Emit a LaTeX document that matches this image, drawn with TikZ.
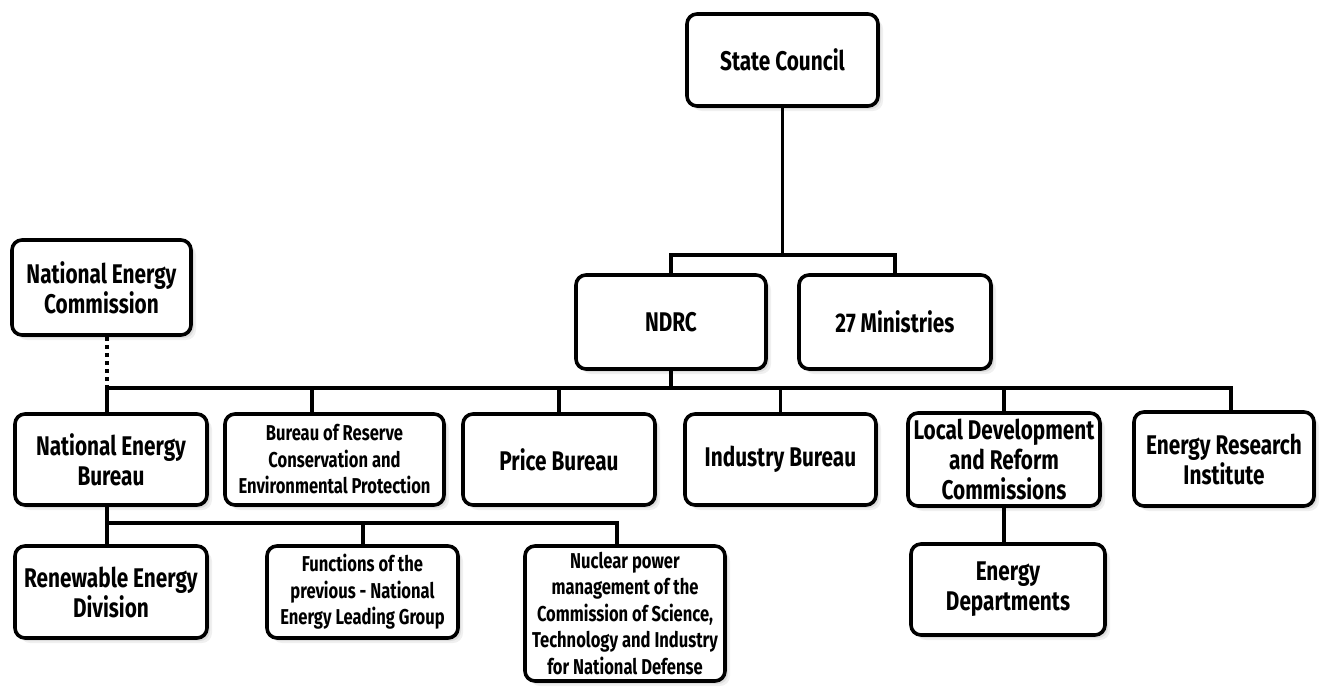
\documentclass[tikz,border=0pt]{standalone}
\usepackage{fontspec}
\setmainfont{Fira Sans}[FakeStretch=0.77]
\usetikzlibrary{shadows}
\begin{document}
\begin{tikzpicture}[x=1pt,y=-1pt,
  shadowed/.style={
    general shadow={shadow xshift=5pt, shadow yshift=-5pt, fill=black, opacity=0.06},
    general shadow={shadow xshift=3pt, shadow yshift=-3pt, fill=black, opacity=0.08},
    general shadow={shadow xshift=1.5pt, shadow yshift=-1.5pt, fill=black, opacity=0.10}},
  box/.style={draw=black, line width=3.6pt, rounded corners=10pt, fill=white,
    align=center, inner sep=0pt, shadowed,
    font=\fontsize{27}{30}\selectfont\bfseries},
  small/.style={font=\fontsize{21.5}{26.5}\selectfont\bfseries},
  link/.style={draw=black, line width=3.6pt, line join=miter},
  dotlink/.style={draw=black, line width=3.6pt, dash pattern=on 4pt off 4pt}]
\fill[white] (0,0) rectangle (1320,686);
\useasboundingbox (0,0) rectangle (1320,686);

\node[box, minimum width=191pt, minimum height=92pt] (sc) at (782.5,60) {State Council};
\node[box, minimum width=190pt, minimum height=94pt] (ndrc) at (671,322) {NDRC};
\node[box, minimum width=192pt, minimum height=94pt] (min) at (895,322) {27 Ministries};
\node[box, minimum width=179pt, minimum height=95pt] (nec) at (101.5,287.5) {National Energy\\Commission};
\node[box, minimum width=192pt, minimum height=91pt] (neb) at (111,459.5) {National Energy\\Bureau};
\node[box, small, minimum width=219pt, minimum height=91pt] (bor) at (334.5,459.5) {Bureau of Reserve\\Conservation and\\Environmental Protection};
\node[box, minimum width=192pt, minimum height=91pt] (pb) at (559,459.5) {Price Bureau};
\node[box, minimum width=191pt, minimum height=91pt] (ib) at (780.5,459.5) {Industry Bureau};
\node[box, minimum width=192pt, minimum height=93pt] (ldr) at (1004,459.5) {Local Development\\and Reform\\Commissions};
\node[box, minimum width=180pt, minimum height=94pt] (eri) at (1224,459) {Energy Research\\Institute};
\node[box, minimum width=192pt, minimum height=92pt] (red) at (111,592) {Renewable Energy\\Division};
\node[box, small, minimum width=191pt, minimum height=92pt] (fun) at (362.5,592) {Functions of the\\previous - National\\Energy Leading Group};
\node[box, small, minimum width=200pt, minimum height=135pt] (nuc) at (625,613.5) {Nuclear power\\management of the\\Commission of Science,\\Technology and Industry\\for National Defense};
\node[box, minimum width=194pt, minimum height=91pt] (ed) at (1008,589.5) {Energy\\Departments};

% State Council to NDRC / 27 Ministries
\coordinate (t1) at (783,255);
\draw[link] (sc.south) -- (sc.south |- t1);
\draw[link] (ndrc.north) |- (t1) -| (min.north);

% NDRC to bureaus
\coordinate (t2) at (671,388);
\coordinate (bneb) at (107,388);
\coordinate (beri) at (1231,388);
\coordinate (bbor) at (312,388);
\draw[link] (ndrc.south) -- (t2);
\draw[link] (neb.north -| bneb) -- (bneb) -- (beri) -- (eri.north -| beri);
\draw[link] (bbor) -- (bbor |- bor.north);
\draw[link] (pb.north |- t2) -- (pb.north);
\draw[link] (ib.north |- t2) -- (ib.north);
\draw[link] (ldr.north |- t2) -- (ldr.north);
\draw[dotlink] (nec.south -| bneb) -- (bneb);

% National Energy Bureau subdivisions
\coordinate (sred) at (107,523);
\coordinate (sfun) at (363,523);
\coordinate (snuc) at (617,523);
\draw[link] (neb.south -| sred) -- (red.north -| sred);
\draw[link] (sred) -- (snuc) -- (nuc.north -| snuc);
\draw[link] (sfun) -- (fun.north -| sfun);

% Local commissions to energy departments
\draw[link] (ldr.south) -- (ldr.south |- ed.north);
\end{tikzpicture}
\end{document}
